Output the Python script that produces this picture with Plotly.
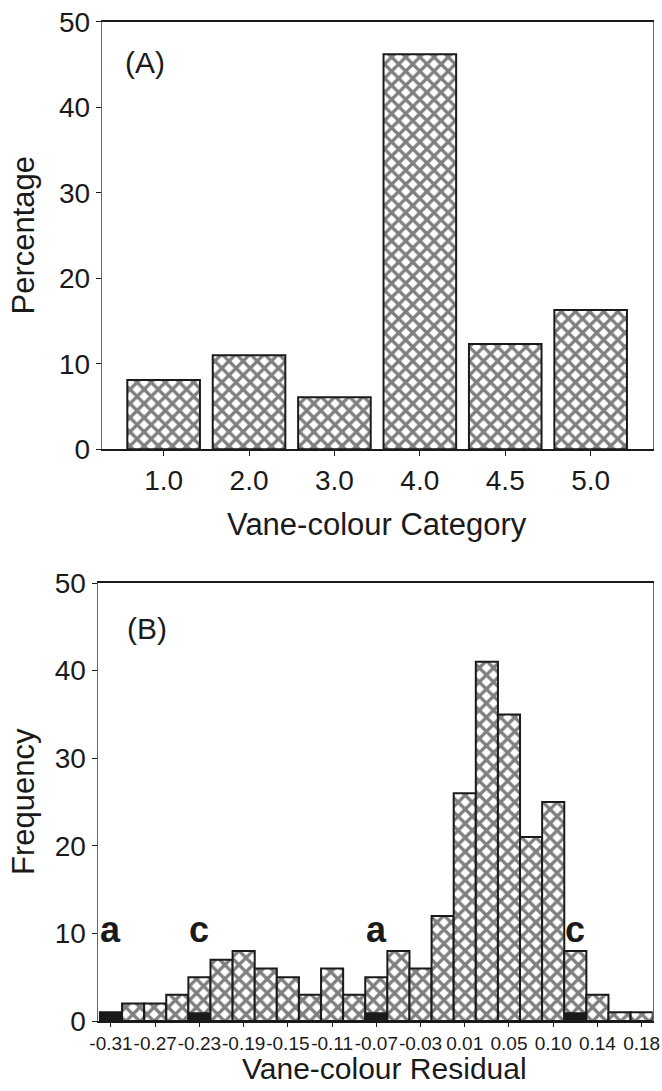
import plotly.graph_objects as go

# ---------------- data ----------------
categories = ["1.0", "2.0", "3.0", "4.0", "4.5", "5.0"]
percentage = [8.1, 11.0, 6.1, 46.2, 12.3, 16.3]

residual_bins = ["-0.31", "-0.29", "-0.27", "-0.25", "-0.23", "-0.21", "-0.19", "-0.17",
                 "-0.15", "-0.13", "-0.11", "-0.09", "-0.07", "-0.05", "-0.03", "-0.01",
                 "0.01", "0.03", "0.05", "0.07", "0.10", "0.12", "0.14", "0.16", "0.18"]
frequency = [1, 2, 2, 3, 5, 7, 8, 6, 5, 3, 6, 3, 5, 8, 6, 12, 26, 41, 35, 21, 25, 8, 3, 1, 1]
black_part = [1, 0, 0, 0, 1, 0, 0, 0, 0, 0, 0, 0, 1, 0, 0, 0, 0, 0, 0, 0, 0, 1, 0, 0, 0]

residual_ticks = ["-0.31", "-0.27", "-0.23", "-0.19", "-0.15", "-0.11", "-0.07",
                  "-0.03", "0.01", "0.05", "0.10", "0.14", "0.18"]

letter_bins = ["-0.31", "-0.23", "-0.07", "0.12"]
letter_text = ["a", "c", "a", "c"]
letter_level = 10.4

y_ticks = [0, 10, 20, 30, 40, 50]

# ---------------- style ----------------
W, H = 662, 1091
FONT = "Liberation Sans, Arial, Helvetica, sans-serif"
INK = "#1a1a1a"

hatch = dict(shape="x", fgcolor="#000000", bgcolor="white", size=10, solidity=0.55)

def fx(px):
    return px / W

def fy(py):
    return (H - py) / H

A_left, A_right, A_top, A_bot = 101.7, 653.0, 21.7, 449.3
B_left, B_right, B_top, B_bot = 97.5, 652.7, 583.0, 1021.0

fig = go.Figure()

fig.add_trace(go.Bar(
    x=categories, y=percentage, width=0.85,
    marker=dict(color="white", line=dict(color=INK, width=2), pattern=hatch),
    xaxis="x", yaxis="y", showlegend=False,
))

fig.add_trace(go.Bar(
    x=residual_bins, y=frequency, width=1.0,
    marker=dict(color="white", line=dict(color=INK, width=2), pattern=hatch),
    xaxis="x2", yaxis="y2", showlegend=False,
))
fig.add_trace(go.Bar(
    x=residual_bins, y=black_part, width=1.0,
    marker=dict(color=INK, line=dict(color=INK, width=0)),
    xaxis="x2", yaxis="y2", showlegend=False,
))

axis_common = dict(
    showline=True, mirror=True, showgrid=False, zeroline=False,
    ticks="outside", tickcolor=INK, automargin=False,
)

fig.update_layout(
    width=W, height=H,
    margin=dict(l=0, r=0, t=0, b=0, autoexpand=False),
    paper_bgcolor="white", plot_bgcolor="white",
    barmode="overlay",
    font=dict(family=FONT, color=INK),
    xaxis=dict(
        **axis_common, domain=[fx(A_left), fx(A_right)], anchor="y",
        type="category", range=[-0.725, 5.73], tickangle=0,
        linecolor=INK, linewidth=2, ticklen=5,
        tickfont=dict(size=28, family=FONT, color=INK),
    ),
    yaxis=dict(
        **axis_common, domain=[fy(A_bot), fy(A_top)], anchor="x",
        range=[0, 50], tickvals=y_ticks,
        linecolor="#666", linewidth=1, ticklen=5,
        tickfont=dict(size=28, family=FONT, color=INK),
    ),
    xaxis2=dict(
        **axis_common, domain=[fx(B_left), fx(B_right)], anchor="y2",
        type="category", range=[-0.61, 24.5], tickangle=0,
        tickmode="array", tickvals=residual_ticks, ticktext=residual_ticks,
        linecolor=INK, linewidth=2, ticklen=4,
        tickfont=dict(size=19, family=FONT, color=INK),
    ),
    yaxis2=dict(
        **axis_common, domain=[fy(B_bot), fy(B_top)], anchor="x2",
        range=[0, 50], tickvals=y_ticks,
        linecolor="#666", linewidth=1, ticklen=5,
        tickfont=dict(size=28, family=FONT, color=INK),
    ),
)

ann = []
ann.append(dict(text="(A)", xref="paper", yref="paper", x=fx(123), y=fy(63),
                xanchor="left", yanchor="middle", showarrow=False,
                font=dict(size=30, family=FONT, color=INK)))
ann.append(dict(text="(B)", xref="paper", yref="paper", x=fx(125), y=fy(628),
                xanchor="left", yanchor="middle", showarrow=False,
                font=dict(size=30, family=FONT, color=INK)))
ann.append(dict(text="Percentage", xref="paper", yref="paper", x=fx(23), y=fy((A_top + A_bot) / 2),
                xanchor="center", yanchor="middle", textangle=-90, showarrow=False,
                font=dict(size=31, family=FONT, color=INK)))
ann.append(dict(text="Frequency", xref="paper", yref="paper", x=fx(23), y=fy((B_top + B_bot) / 2),
                xanchor="center", yanchor="middle", textangle=-90, showarrow=False,
                font=dict(size=31, family=FONT, color=INK)))
ann.append(dict(text="Vane-colour Category", xref="paper", yref="paper", x=fx(377), y=fy(524),
                xanchor="center", yanchor="middle", showarrow=False,
                font=dict(size=31, family=FONT, color=INK)))
ann.append(dict(text="Vane-colour Residual", xref="paper", yref="paper", x=fx(384), y=fy(1068),
                xanchor="center", yanchor="middle", showarrow=False,
                font=dict(size=30, family=FONT, color=INK)))
for b, t in zip(letter_bins, letter_text):
    ann.append(dict(text="<b>%s</b>" % t, xref="x2", yref="y2", x=residual_bins.index(b), y=letter_level,
                    xanchor="center", yanchor="middle", showarrow=False,
                    font=dict(size=36, family=FONT, color=INK)))

fig.update_layout(annotations=ann)

fig.write_html("out.html")
